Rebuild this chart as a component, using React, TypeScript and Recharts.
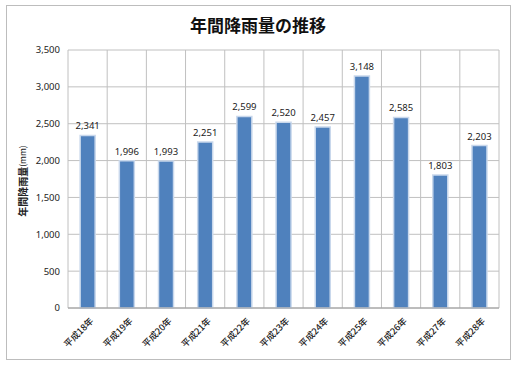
import React from 'react';
import { BarChart, Bar, XAxis, YAxis, CartesianGrid, LabelList } from 'recharts';

const years = ['平成18年', '平成19年', '平成20年', '平成21年', '平成22年', '平成23年', '平成24年', '平成25年', '平成26年', '平成27年', '平成28年'];
const rainfall = [2341, 1996, 1993, 2251, 2599, 2520, 2457, 3148, 2585, 1803, 2203];
const yTicks = [0, 500, 1000, 1500, 2000, 2500, 3000, 3500];

const data = years.map((year, i) => ({ year, rainfall: rainfall[i] }));

const JP = '"Noto Sans CJK JP", "Noto Sans", sans-serif';
const NUM = '"Liberation Sans Narrow", "Noto Sans", sans-serif';

const XTick = (props: any) => {
  const { x, y, payload } = props;
  return (
    <g transform={`translate(${x + 3},${y + 2})`}>
      <text transform="rotate(-45)" textAnchor="end" dy={5} fontSize={9} fontWeight={500} fontFamily={JP} fill="#222">
        {payload.value}
      </text>
    </g>
  );
};

const YLabel = (props: any) => {
  const { viewBox } = props;
  const cx = 22;
  const cy = viewBox.y + viewBox.height / 2 + 2;
  return (
    <text transform={`rotate(-90, ${cx}, ${cy})`} x={cx} y={cy} textAnchor="middle" dominantBaseline="central" fontFamily={JP} fontWeight="bold" fontSize={10} fill="#222">
      年間降雨量<tspan fontSize={8.5} fontWeight="normal">(mm)</tspan>
    </text>
  );
};

const App: React.FC = () => {
  return (
    <div style={{ position: 'absolute', left: 0, top: 0, width: 516, height: 368, background: '#fff' }}>
      <div style={{ position: 'absolute', left: 6, top: 5, width: 503, height: 353, border: '1px solid #bdbdbd' }} />
      <div style={{ position: 'absolute', left: 0, top: 12, width: 516, textAlign: 'center', fontFamily: JP, fontWeight: 'bold', fontSize: 17, color: '#111' }}>
        年間降雨量の推移
      </div>
      <div style={{ position: 'absolute', left: 0, top: 0 }}>
        <BarChart width={516} height={368} data={data} margin={{ top: 50, right: 17, bottom: 0, left: 18 }} barCategoryGap="31%">
          <CartesianGrid
            stroke="#c0c0c0"
            verticalCoordinatesGenerator={({ offset }: any) =>
              years.map((_, i) => offset.left + (i * offset.width) / years.length).concat(offset.left + offset.width)
            }
          />
          <XAxis dataKey="year" interval={0} tickLine={false} axisLine={{ stroke: '#9a9a9a' }} tick={<XTick />} height={60} />
          <YAxis
            domain={[0, 3500]}
            ticks={yTicks}
            tickFormatter={(v: number) => v.toLocaleString('en-US')}
            tick={{ fontSize: 9.5, fill: '#222', fontFamily: NUM }}
            tickLine={false}
            axisLine={false}
            width={50}
            label={<YLabel />}
          />
          <Bar dataKey="rainfall" fill="#4f81bd" stroke="#c9d8ec" strokeWidth={1.5} isAnimationActive={false}>
            <LabelList dataKey="rainfall" position="top" offset={6} formatter={(v: any) => Number(v).toLocaleString('en-US')} style={{ fontSize: 9.5, fill: '#222', fontFamily: NUM }} />
          </Bar>
        </BarChart>
      </div>
    </div>
  );
};

export default App;
